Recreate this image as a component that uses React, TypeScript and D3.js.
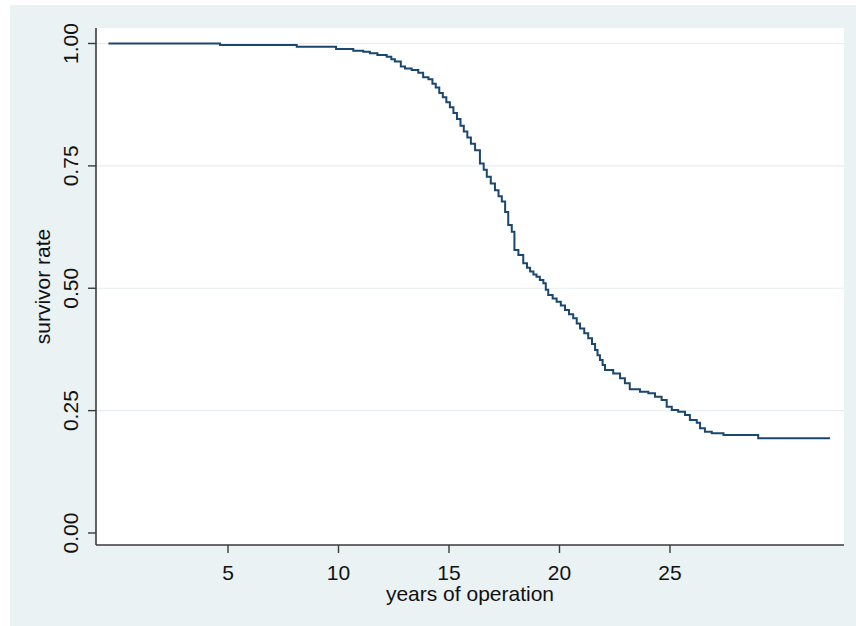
import React from "react";
import * as d3 from "d3";

const times: number[] = [
  -0.41, 4.64, 8.11, 9.89, 10.67, 11.12, 11.42, 11.76, 12.18, 12.39, 12.55, 12.82, 13.01, 13.31,
  13.61, 13.83, 14.07, 14.25, 14.4, 14.56, 14.72, 14.88, 15.04, 15.2, 15.36, 15.52, 15.67,
  15.83, 15.99, 16.18, 16.4, 16.57, 16.71, 16.89, 17.08, 17.24, 17.39, 17.54, 17.68, 17.84,
  17.96, 18.14, 18.36, 18.53, 18.67, 18.82, 18.96, 19.11, 19.27, 19.38, 19.49, 19.69, 19.87,
  20.06, 20.25, 20.43, 20.62, 20.78, 20.93, 21.12, 21.3, 21.47, 21.61, 21.72, 21.83, 21.95,
  22.06, 22.43, 22.74, 22.96, 23.18, 23.64, 24.02, 24.32, 24.62, 24.85, 25.08, 25.37, 25.68,
  25.9, 26.21, 26.36, 26.58, 26.89, 27.42, 28.99, 32.24,
];
const survival: number[] = [
  1.0, 0.997, 0.9935, 0.989, 0.985, 0.983, 0.98, 0.9765, 0.973, 0.968, 0.963, 0.953, 0.949, 0.946,
  0.9405, 0.931, 0.927, 0.918, 0.91, 0.899, 0.89, 0.88, 0.87, 0.858, 0.846, 0.832, 0.82,
  0.808, 0.795, 0.782, 0.755, 0.742, 0.728, 0.714, 0.7, 0.688, 0.677, 0.656, 0.629, 0.6155,
  0.578, 0.568, 0.551, 0.542, 0.534, 0.528, 0.5236, 0.517, 0.51, 0.497, 0.486, 0.479, 0.4725,
  0.465, 0.4556, 0.447, 0.4386, 0.428, 0.418, 0.408, 0.3977, 0.386, 0.374, 0.363, 0.3534, 0.343,
  0.333, 0.326, 0.316, 0.306, 0.2936, 0.2887, 0.2854, 0.2785, 0.2717, 0.258, 0.2513, 0.2478, 0.241,
  0.2308, 0.2253, 0.2139, 0.207, 0.2036, 0.2002, 0.1934, 0.1934,
];
const xTicks: number[] = [5, 10, 15, 20, 25];
const yTicks: number[] = [0, 0.25, 0.5, 0.75, 1];
const yTickLabels: string[] = ["0.00", "0.25", "0.50", "0.75", "1.00"];
const xTitle = "years of operation";
const yTitle = "survivor rate";

const W = 856;
const H = 626;
const plotL = 96;
const plotR = 844;
const plotT = 28;
const plotB = 545;
const FONT = "'Liberation Sans', Arial, sans-serif";
const TEXT = "#111111";
const AXIS = "#3a3a3a";

export default function App() {
  const x = d3.scaleLinear().domain([5, 25]).range([228, 670]);
  const y = d3.scaleLinear().domain([0, 1]).range([533, 43.5]);
  const pts: [number, number][] = times.map((t, i) => [t, survival[i]]);
  const line = d3
    .line<[number, number]>()
    .x((d) => x(d[0]))
    .y((d) => y(d[1]))
    .curve(d3.curveStepAfter);

  return (
    <svg
      width={W}
      height={H}
      style={{ position: "absolute", left: 0, top: 0 }}
      fontFamily={FONT}
    >
      <rect x={0} y={0} width={W} height={H} fill="#ffffff" />
      <rect x={10} y={5} width={W - 10} height={H - 5} fill="#eaf2f3" />
      <rect x={plotL} y={plotT} width={plotR - plotL} height={plotB - plotT} fill="#ffffff" />
      {yTicks
        .filter((v) => v > 0)
        .map((v) => (
          <line
            key={"g" + v}
            x1={plotL}
            x2={plotR}
            y1={y(v)}
            y2={y(v)}
            stroke="#e6eef1"
            strokeWidth={1.2}
          />
        ))}
      <path d={line(pts) || ""} fill="none" stroke="#1a476f" strokeWidth={2} />
      <line x1={plotL} x2={plotL} y1={plotT} y2={plotB} stroke={AXIS} strokeWidth={1.6} />
      <line x1={plotL} x2={plotR} y1={plotB} y2={plotB} stroke={AXIS} strokeWidth={1.6} />
      {yTicks.map((v, i) => (
        <g key={"y" + v}>
          <line x1={plotL - 8} x2={plotL} y1={y(v)} y2={y(v)} stroke={AXIS} strokeWidth={1.4} />
          <text
            transform={`translate(78, ${y(v)}) rotate(-90)`}
            textAnchor="middle"
            fontSize={21}
            fill={TEXT}
          >
            {yTickLabels[i]}
          </text>
        </g>
      ))}
      {xTicks.map((v) => (
        <g key={"x" + v}>
          <line x1={x(v)} x2={x(v)} y1={plotB} y2={plotB + 8} stroke={AXIS} strokeWidth={1.4} />
          <text x={x(v)} y={580} textAnchor="middle" fontSize={21} fill={TEXT}>
            {v}
          </text>
        </g>
      ))}
      <text x={(plotL + plotR) / 2} y={601} textAnchor="middle" fontSize={21} fill={TEXT}>
        {xTitle}
      </text>
      <text
        transform={`translate(50, 286.5) rotate(-90)`}
        textAnchor="middle"
        fontSize={21}
        fill={TEXT}
      >
        {yTitle}
      </text>
    </svg>
  );
}
